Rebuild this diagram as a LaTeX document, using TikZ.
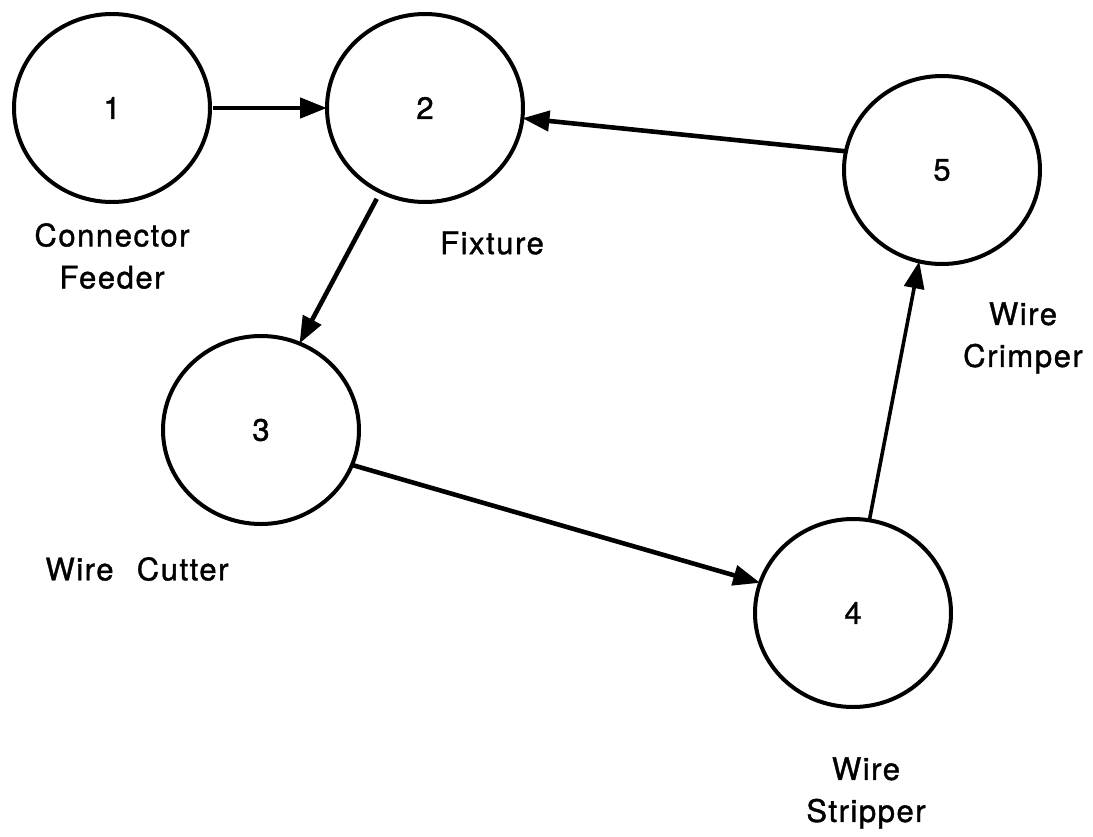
\documentclass[tikz,border=0pt]{standalone}
\usepackage{fontspec}
\setmainfont{TeX Gyre Heros}
\usetikzlibrary{arrows.meta,shapes.geometric}
\tikzset{
  station/.style={ellipse, draw, line width=4pt, minimum width=196pt, minimum height=188pt, inner sep=0pt, outer sep=0pt},
  flow/.style={line width=4.6pt, -{Triangle[length=27pt,width=20pt]}},
  caption/.style={align=center, inner sep=0pt}
}
\begin{document}
\begin{tikzpicture}[x=1pt,y=-1pt]
\useasboundingbox (0,0) rectangle (1093,836);
\fill[white] (0,0) rectangle (1093,836);
\begin{scope}[every node/.append style={font=\fontsize{31}{42}\selectfont\addfontfeatures{LetterSpace=5,FakeBold=1.2}}]
\node[station] (c1) at (112,108) {1};
\node[station] (c2) at (425,108) {2};
\node[station] (c3) at (261,430) {3};
\node[station] (c4) at (853,613) {4};
\node[station] (c5) at (942,170) {5};

\node[caption] (l1) at (112,256) {Connector\\Feeder};
\node[caption] (l2) at (492,243) {Fixture};
\node[caption] (l3) at (137,569) {Wire\hspace{0.75em}Cutter};
\node[caption] (l4) at (866,793) {Wire\\Stripper};
\node[caption] (l5) at (1023,338) {Wire\\Crimper};
\end{scope}

\draw[flow] (c1.east) ++(3,0) coordinate (s12) -- (c2.west);
\draw[flow] (c5.169.4) -- (c2.-6.4);
\draw[flow, shorten <=8pt] (c2.242.4) -- (c3.66.5);
\draw[flow] (c3.-21.9) -- (c4.162.1);
\draw[flow, line width=3.6pt] (c4.80.8) -- (c5.256.9);
\end{tikzpicture}
\end{document}
